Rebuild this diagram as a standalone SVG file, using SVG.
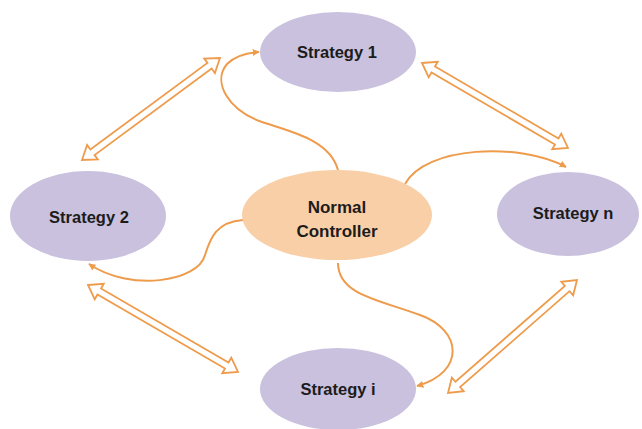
<svg xmlns="http://www.w3.org/2000/svg" width="642" height="429" viewBox="0 0 642 429">
  <style>
    .strategy { fill: #c9c1dd; }
    .core { fill: #f9cfa7; }
    .label { font-family: "Liberation Sans", Arial, sans-serif; font-weight: bold; font-size: 16.5px; fill: #1c1c1c; text-anchor: middle; }
    .core-label { font-size: 17px; }
    .flow { fill: none; stroke: #ee9b4c; stroke-width: 2; }
    .link { fill: #ffffff; stroke: #ee9b4c; stroke-width: 1.8; stroke-linejoin: miter; }
  </style>
  <defs>
    <marker id="tip" viewBox="0 0 10 10" refX="9" refY="5" markerWidth="7" markerHeight="7" markerUnits="userSpaceOnUse" orient="auto">
      <path d="M0,0 L10,5 L0,10 Z" fill="#ee9b4c"/>
    </marker>
  </defs>
  <rect width="642" height="429" fill="#ffffff"/>

  <!-- connectors -->
  <g id="connectors">
    <!-- hollow double arrows between neighbouring strategies -->
    <polygon class="link" transform="translate(82,160) rotate(-36.47)" points="0,0 13,-9 13,-3.5 158.6,-3.5 158.6,-9 171.6,0 158.6,9 158.6,3.5 13,3.5 13,9"/>
    <polygon class="link" transform="translate(422,63) rotate(30.21)" points="0,0 13,-9 13,-3.5 155.9,-3.5 155.9,-9 168.9,0 155.9,9 155.9,3.5 13,3.5 13,9"/>
    <polygon class="link" transform="translate(88,285) rotate(30.11)" points="0,0 13,-9 13,-3.5 160.4,-3.5 160.4,-9 173.4,0 160.4,9 160.4,3.5 13,3.5 13,9"/>
    <polygon class="link" transform="translate(448,393) rotate(-41.22)" points="0,0 13,-9 13,-3.5 158.5,-3.5 158.5,-9 171.5,0 158.5,9 158.5,3.5 13,3.5 13,9"/>
    <!-- curved flows from the controller -->
    <path class="flow" marker-end="url(#tip)" d="M338,170 C330,140 292,132 262,122 C228,110 212,82 227,64 C235,56 245,53 259,52"/>
    <path class="flow" marker-end="url(#tip)" d="M405,184 C425,146 520,142 566,167"/>
    <path class="flow" marker-end="url(#tip)" d="M243,220 C215,222 210,240 205,255 C198,282 130,292 89,264"/>
    <path class="flow" marker-end="url(#tip)" d="M338,263 C338,295 380,300 420,315 C462,330 466,372 417,386"/>
  </g>

  <g id="strategy-1">
    <ellipse class="strategy" cx="338" cy="52" rx="78" ry="40"/>
    <text class="label" x="337" y="58">Strategy 1</text>
  </g>
  <g id="strategy-2">
    <ellipse class="strategy" cx="88" cy="216" rx="78" ry="45"/>
    <text class="label" x="89" y="223">Strategy 2</text>
  </g>
  <g id="strategy-n">
    <ellipse class="strategy" cx="568" cy="214" rx="71" ry="42"/>
    <text class="label" x="573" y="219">Strategy n</text>
  </g>
  <g id="strategy-i">
    <ellipse class="strategy" cx="338" cy="389" rx="78" ry="41"/>
    <text class="label" x="338" y="395">Strategy i</text>
  </g>
  <g id="normal-controller">
    <ellipse class="core" cx="337" cy="215" rx="95" ry="45"/>
    <text class="label core-label" x="337" y="213">Normal</text>
    <text class="label core-label" x="337" y="237">Controller</text>
  </g>
</svg>
